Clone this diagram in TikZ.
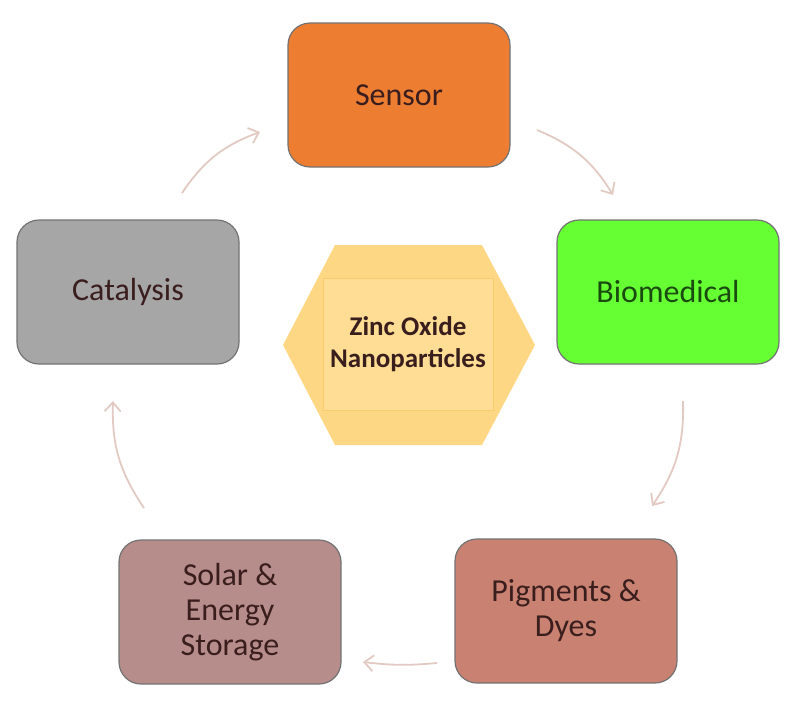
\documentclass[tikz,border=0pt]{standalone}
\usepackage{fontspec}
\setmainfont{Carlito}
\usetikzlibrary{arrows.meta}

\begin{document}
\begin{tikzpicture}[x=1pt,y=-1pt]
        \definecolor{sensorfill}{RGB}{237,125,49}
        \definecolor{biofill}{RGB}{102,255,51}
        \definecolor{pigfill}{RGB}{201,129,113}
        \definecolor{solarfill}{RGB}{183,141,139}
        \definecolor{catfill}{RGB}{166,166,166}
        \definecolor{hexfill}{RGB}{254,215,132}
        \definecolor{hexinner}{RGB}{255,221,148}
        \definecolor{hexline}{RGB}{250,204,112}
        \definecolor{boxtext}{RGB}{58,30,30}
        \definecolor{cyclearrow}{RGB}{226,202,194}
        \tikzset{
            appbox/.style={draw=black!55,line width=1.2pt,rounded corners=22pt,
                minimum width=222pt,minimum height=144pt,inner sep=0pt,
                align=center,text=boxtext,font=\fontsize{32}{35}\selectfont},
            cyc/.style={cyclearrow,line width=1.8pt,
                -{Straight Barb[length=9pt,width=16pt]},bend left=18}
        }
        \useasboundingbox (0,0) rectangle (800,710);

        % centre hexagon
        \coordinate (hexc) at (409,345);
        \fill[hexfill] ([shift={(-74,-100)}]hexc) -- ([shift={(73,-100)}]hexc)
            -- ([shift={(126,0)}]hexc) -- ([shift={(73,100)}]hexc)
            -- ([shift={(-74,100)}]hexc) -- ([shift={(-126,0)}]hexc) -- cycle;
        \node[fill=hexinner,draw=hexline,line width=0.6pt,minimum width=170pt,
            minimum height=132pt,inner sep=0pt,align=center,text=boxtext,
            font=\bfseries\fontsize{27}{32}\selectfont]
            (zno) at (408,344) {Zinc Oxide\\Nanoparticles};

        % boxes
        \node[appbox,fill=sensorfill] (sensor) at (399,95) {Sensor};
        \node[appbox,fill=biofill,text={rgb,255:red,25;green,75;blue,15}]
            (bio) at (668,292) {Biomedical};
        \node[appbox,fill=pigfill] (pigment) at (566,611) {Pigments \&\\Dyes};
        \node[appbox,fill=solarfill] (solar) at (230,612) {Solar \&\\Energy\\Storage};
        \node[appbox,fill=catfill] (catalysis) at (128,292) {Catalysis};

        % arrow ends
        \coordinate (sensor-out) at (537,130);
        \coordinate (bio-in) at (613,195);
        \coordinate (bio-out) at (683,401);
        \coordinate (pigment-in) at (652,506);
        \coordinate (pigment-out) at (437,663);
        \coordinate (solar-in) at (363,662);
        \coordinate (solar-out) at (144,508);
        \coordinate (catalysis-in) at (113,401);
        \coordinate (catalysis-out) at (182,193);
        \coordinate (sensor-in) at (260,132);

        % arrows
        \draw[cyc] (sensor-out) to (bio-in);
        \draw[cyc] (bio-out) to (pigment-in);
        \draw[cyc,bend left=6] (pigment-out) to (solar-in);
        \draw[cyc] (solar-out) to (catalysis-in);
        \draw[cyc] (catalysis-out) to (sensor-in);
    \end{tikzpicture}
\end{document}
